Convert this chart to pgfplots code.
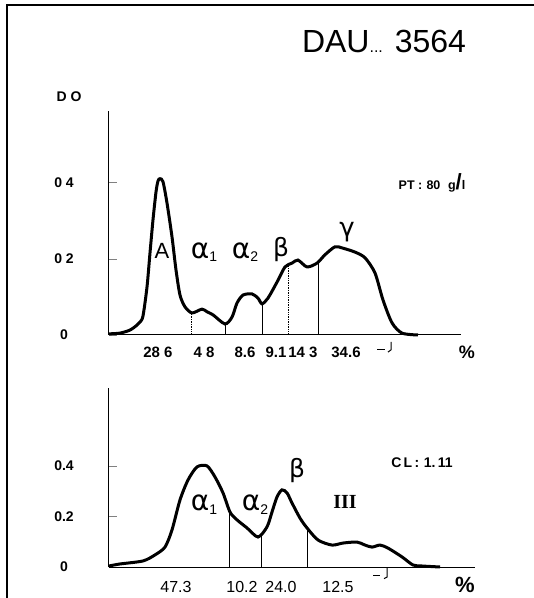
\documentclass[border=0pt]{standalone}
\usepackage{pgfplots}
\pgfplotsset{compat=1.18}
\usepackage{fontspec}
\setmainfont{Liberation Sans}
\newfontfamily\serifIII{Liberation Serif}
\newfontfamily\gkfont{DejaVu Sans}
\newcommand{\gk}[2]{{\gkfont\fontsize{28}{30}\selectfont #1}\raisebox{-0.7ex}{\fontsize{14}{16}\selectfont #2}}
\begin{document}
\begin{tikzpicture}
\path[use as bounding box] (0pt,0pt) rectangle (534pt,598pt);
\draw[line width=2pt] (7pt,0pt) -- (7pt,593pt) -- (534pt,593pt);
\coordinate (TOPO) at (109pt,263pt);
\coordinate (BOTO) at (109pt,31pt);
\node[font=\fontsize{32}{36}\selectfont] at (384pt,557pt) {DAU{\fontsize{16}{18}\selectfont...} 3564};
\node[font=\bfseries\fontsize{14}{16}\selectfont] at (69pt,501pt) {D O};

% ---------------- top panel ----------------
\begin{axis}[at={(TOPO)}, anchor=south west, scale only axis,
  width=352pt, height=224pt, xmin=0, xmax=352, ymin=0, ymax=0.589,
  axis x line=bottom, axis y line=left, axis line style={-, line width=1pt},
  xtick=\empty, ytick={0,0.2,0.4}, yticklabels={0,0 2,0 4},
  tick align=inside, major tick length=8pt, tick style={line width=0.8pt},
  yticklabel style={anchor=center, xshift=-45pt, font=\bfseries\fontsize{14}{16}\selectfont},
  clip=false]
\addplot[black, line width=3pt, smooth, tension=0.45] coordinates {
(0,0.003) (11,0.005) (21,0.013) (28,0.026) (31,0.034) (34,0.05) (38,0.126) (41,0.216) (44,0.303)
(47,0.376) (49,0.405) (51,0.411) (54,0.403) (58,0.347) (63,0.258) (67,0.171) (71,0.105) (76,0.074)
(83,0.058) (93,0.068) (98,0.061) (104,0.053) (116,0.029) (123,0.047) (128,0.084) (134,0.105)
(143,0.108) (149,0.097) (153,0.082) (159,0.097) (168,0.139) (176,0.179) (183,0.189) (189,0.197)
(198,0.179) (208,0.189) (216,0.211) (226,0.232) (233,0.229) (246,0.218) (256,0.203) (266,0.163)
(274,0.092) (283,0.032) (293,0.005) (309,0)};
\addplot[black, line width=0.7pt, densely dotted] coordinates {(82,0) (82,0.058)};
\addplot[black, line width=0.7pt] coordinates {(116,0) (116,0.029)};
\addplot[black, line width=0.7pt] coordinates {(153,0) (153,0.082)};
\addplot[black, line width=0.7pt, densely dotted] coordinates {(179,0) (179,0.182)};
\addplot[black, line width=0.7pt] coordinates {(209,0) (209,0.19)};
\node[font=\fontsize{22}{24}\selectfont] at (axis cs:53,0.222) {A};
\node at (axis cs:95,0.218) {\gk{α}{1}};
\node at (axis cs:136,0.218) {\gk{α}{2}};
\node[font=\gkfont\fontsize{25}{28}\selectfont] at (axis cs:172,0.224) {β};
\node[font=\gkfont\fontsize{26}{28}\selectfont] at (axis cs:238,0.27) {γ};
\node[font=\bfseries\fontsize{12.5}{14}\selectfont] at (axis cs:323,0.40) {PT :\,\,80\,\, g{\fontsize{22}{22}\selectfont/}l};
\begin{scope}[font=\bfseries\fontsize{15}{17}\selectfont]
\node at (axis cs:49,-0.045) {28 6};
\node at (axis cs:95,-0.045) {4 8};
\node at (axis cs:136,-0.045) {8.6};
\node at (axis cs:167,-0.045) {9.1};
\node at (axis cs:194,-0.045) {14 3};
\node at (axis cs:237,-0.045) {34.6};
\node[font=\bfseries\fontsize{18}{20}\selectfont] at (axis cs:358,-0.045) {\%};
\end{scope}
\draw[line width=1pt] (axis cs:268,-0.039) -- (axis cs:276,-0.039);
\draw[line width=1pt] (axis cs:282,-0.018) -- (axis cs:282,-0.039) -- (axis cs:279,-0.045);
\end{axis}

% ---------------- bottom panel ----------------
\begin{axis}[at={(BOTO)}, anchor=south west, scale only axis,
  width=366pt, height=179pt, xmin=0, xmax=366, ymin=0, ymax=0.71,
  axis x line=bottom, axis y line=left, axis line style={-, line width=1pt},
  xtick=\empty, ytick={0,0.2,0.4}, yticklabels={0,0.2,0.4},
  tick align=inside, major tick length=8pt, tick style={line width=0.8pt},
  yticklabel style={anchor=center, xshift=-45pt, font=\bfseries\fontsize{14}{16}\selectfont},
  clip=false]
\addplot[black, line width=3pt, smooth, tension=0.45] coordinates {
(0,0.004) (11,0.012) (34,0.024) (46,0.048) (56,0.079) (63,0.147) (71,0.266) (79,0.345) (88,0.397)
(98,0.401) (106,0.357) (114,0.294) (121,0.218) (128,0.187) (138,0.155) (149,0.119) (158,0.159)
(163,0.218) (168,0.278) (173,0.306) (178,0.294) (183,0.254) (191,0.194) (198,0.155) (209,0.107)
(223,0.087) (234,0.095) (248,0.099) (256,0.087) (263,0.079) (271,0.087) (279,0.075) (293,0.040)
(304,0.008) (313,0.004) (331,0)};
\addplot[black, line width=0.7pt] coordinates {(120,0) (120,0.222)};
\addplot[black, line width=0.7pt] coordinates {(152,0) (152,0.125)};
\addplot[black, line width=0.7pt] coordinates {(198,0) (198,0.155)};
\node at (axis cs:95,0.246) {\gk{α}{1}};
\node at (axis cs:146,0.246) {\gk{α}{2}};
\node[font=\gkfont\fontsize{25}{28}\selectfont] at (axis cs:188,0.381) {β};
\node[font=\serifIII\bfseries\fontsize{20}{22}\selectfont] at (axis cs:236,0.258) {III};
\node[font=\bfseries\fontsize{14}{16}\selectfont] at (axis cs:313,0.413) {C\,L\,:\,\,1.\,11};
\begin{scope}[font=\fontsize{16}{18}\selectfont]
\node at (axis cs:67,-0.079) {47.3};
\node at (axis cs:133,-0.079) {10.2};
\node at (axis cs:172,-0.079) {24.0};
\node at (axis cs:229,-0.079) {12.5};
\node[font=\bfseries\fontsize{22}{24}\selectfont] at (axis cs:356,-0.070) {\%};
\end{scope}
\draw[line width=1pt] (axis cs:264,-0.032) -- (axis cs:271,-0.032);
\draw[line width=1pt] (axis cs:278,-0.004) -- (axis cs:278,-0.040) -- (axis cs:275,-0.046);
\end{axis}
\end{tikzpicture}
\end{document}
